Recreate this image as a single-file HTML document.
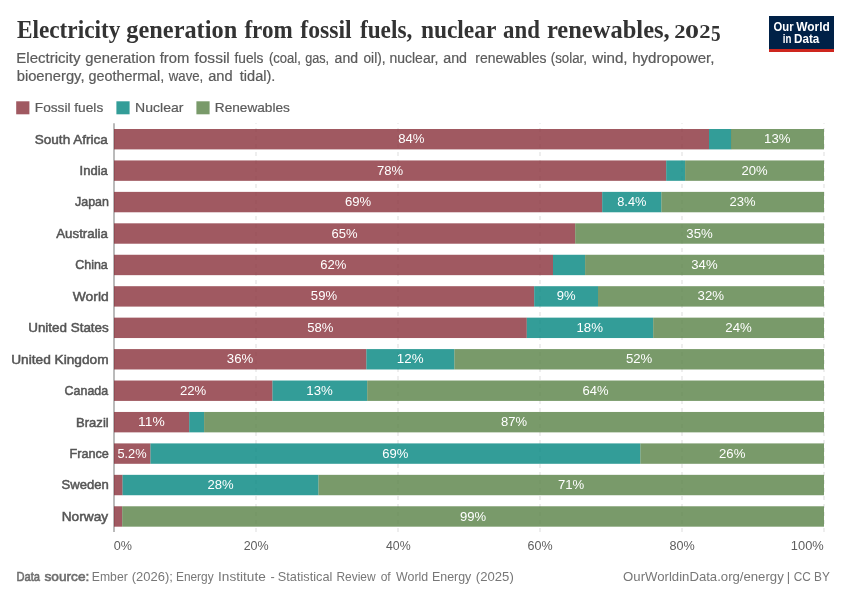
<!DOCTYPE html>
<html lang="en"><head><meta charset="utf-8"><title>Electricity generation from fossil fuels, nuclear and renewables, 2025</title>
<style>
html,body{margin:0;padding:0;background:#fff;}
svg{display:block;will-change:transform;}
text{font-family:'Liberation Sans', sans-serif;white-space:pre;}
.title{font-family:'Liberation Serif', serif;font-weight:bold;font-size:25px;fill:#333}
.titlenum{font-family:'Liberation Serif', serif;font-weight:bold;font-size:17.8px;fill:#333}
.titlenum5{font-family:'Liberation Serif', serif;font-weight:bold;font-size:23px;fill:#333}
.sub{font-family:'Liberation Sans', sans-serif;font-size:13.8px;fill:#5b5b5b;stroke:#5b5b5b;stroke-width:0.2px}
.leg{font-family:'Liberation Sans', sans-serif;font-size:13px;fill:#5b5b5b;stroke:#5b5b5b;stroke-width:0.2px}
.lbl{font-family:'Liberation Sans', sans-serif;font-size:13px;fill:#555;stroke:#555;stroke-width:0.5px}
.val{font-family:'Liberation Sans', sans-serif;font-size:13px;fill:#fff}
.tick{font-family:'Liberation Sans', sans-serif;font-size:13px;fill:#5e5e5e}
.foot{font-family:'Liberation Sans', sans-serif;font-size:13px;fill:#777}
.footb{font-family:'Liberation Sans', sans-serif;font-size:13px;fill:#6e6e6e;stroke:#6e6e6e;stroke-width:0.6px}
.logo{font-family:'Liberation Sans', sans-serif;font-size:12px;font-weight:bold;fill:#fff}
</style></head><body>
<svg width="850" height="600" viewBox="0 0 850 600">
<rect width="850" height="600" fill="#fff"/>
<rect x="769" y="16" width="65" height="36" fill="#002147"/><rect x="769" y="49" width="65" height="3" fill="#ce261e"/>
<rect x="16.2" y="101.3" width="13.2" height="13" fill="#883039" fill-opacity="0.8"/>
<rect x="116.4" y="101.3" width="13.2" height="13" fill="#00847e" fill-opacity="0.8"/>
<rect x="196.4" y="101.3" width="13.2" height="13" fill="#578145" fill-opacity="0.8"/>
<line x1="256.0" y1="532.0" x2="256.0" y2="123.2" stroke="#ddd" stroke-width="1" stroke-dasharray="4,4"/>
<line x1="398.0" y1="532.0" x2="398.0" y2="123.2" stroke="#ddd" stroke-width="1" stroke-dasharray="4,4"/>
<line x1="540.0" y1="532.0" x2="540.0" y2="123.2" stroke="#ddd" stroke-width="1" stroke-dasharray="4,4"/>
<line x1="682.0" y1="532.0" x2="682.0" y2="123.2" stroke="#ddd" stroke-width="1" stroke-dasharray="4,4"/>
<line x1="824.0" y1="532.0" x2="824.0" y2="123.2" stroke="#ddd" stroke-width="1" stroke-dasharray="4,4"/>
<line x1="114.0" y1="123.25" x2="114.0" y2="532.0" stroke="#777" stroke-width="1"/>
<rect x="114.0" y="129.00" width="595.0" height="20.4" fill="#883039" fill-opacity="0.8"/>
<rect x="709.0" y="129.00" width="22.1" height="20.4" fill="#00847e" fill-opacity="0.8"/>
<rect x="731.0" y="129.00" width="93.0" height="20.4" fill="#578145" fill-opacity="0.8"/>
<rect x="114.0" y="160.44" width="552.2" height="20.4" fill="#883039" fill-opacity="0.8"/>
<rect x="666.2" y="160.44" width="18.9" height="20.4" fill="#00847e" fill-opacity="0.8"/>
<rect x="685.1" y="160.44" width="138.9" height="20.4" fill="#578145" fill-opacity="0.8"/>
<rect x="114.0" y="191.88" width="488.2" height="20.4" fill="#883039" fill-opacity="0.8"/>
<rect x="602.2" y="191.88" width="59.2" height="20.4" fill="#00847e" fill-opacity="0.8"/>
<rect x="661.4" y="191.88" width="162.6" height="20.4" fill="#578145" fill-opacity="0.8"/>
<rect x="114.0" y="223.32" width="461.2" height="20.4" fill="#883039" fill-opacity="0.8"/>
<rect x="575.2" y="223.32" width="248.8" height="20.4" fill="#578145" fill-opacity="0.8"/>
<rect x="114.0" y="254.76" width="439.0" height="20.4" fill="#883039" fill-opacity="0.8"/>
<rect x="553.0" y="254.76" width="32.1" height="20.4" fill="#00847e" fill-opacity="0.8"/>
<rect x="585.1" y="254.76" width="238.9" height="20.4" fill="#578145" fill-opacity="0.8"/>
<rect x="114.0" y="286.20" width="420.2" height="20.4" fill="#883039" fill-opacity="0.8"/>
<rect x="534.2" y="286.20" width="63.8" height="20.4" fill="#00847e" fill-opacity="0.8"/>
<rect x="598.0" y="286.20" width="226.0" height="20.4" fill="#578145" fill-opacity="0.8"/>
<rect x="114.0" y="317.64" width="412.8" height="20.4" fill="#883039" fill-opacity="0.8"/>
<rect x="526.8" y="317.64" width="126.4" height="20.4" fill="#00847e" fill-opacity="0.8"/>
<rect x="653.2" y="317.64" width="170.8" height="20.4" fill="#578145" fill-opacity="0.8"/>
<rect x="114.0" y="349.08" width="252.4" height="20.4" fill="#883039" fill-opacity="0.8"/>
<rect x="366.4" y="349.08" width="88.0" height="20.4" fill="#00847e" fill-opacity="0.8"/>
<rect x="454.4" y="349.08" width="369.6" height="20.4" fill="#578145" fill-opacity="0.8"/>
<rect x="114.0" y="380.52" width="158.5" height="20.4" fill="#883039" fill-opacity="0.8"/>
<rect x="272.5" y="380.52" width="94.7" height="20.4" fill="#00847e" fill-opacity="0.8"/>
<rect x="367.2" y="380.52" width="456.8" height="20.4" fill="#578145" fill-opacity="0.8"/>
<rect x="114.0" y="411.96" width="75.2" height="20.4" fill="#883039" fill-opacity="0.8"/>
<rect x="189.2" y="411.96" width="14.9" height="20.4" fill="#00847e" fill-opacity="0.8"/>
<rect x="204.1" y="411.96" width="619.9" height="20.4" fill="#578145" fill-opacity="0.8"/>
<rect x="114.0" y="443.40" width="36.5" height="20.4" fill="#883039" fill-opacity="0.8"/>
<rect x="150.5" y="443.40" width="489.9" height="20.4" fill="#00847e" fill-opacity="0.8"/>
<rect x="640.4" y="443.40" width="183.6" height="20.4" fill="#578145" fill-opacity="0.8"/>
<rect x="114.0" y="474.84" width="8.6" height="20.4" fill="#883039" fill-opacity="0.8"/>
<rect x="122.6" y="474.84" width="195.9" height="20.4" fill="#00847e" fill-opacity="0.8"/>
<rect x="318.5" y="474.84" width="505.5" height="20.4" fill="#578145" fill-opacity="0.8"/>
<rect x="114.0" y="506.28" width="8.2" height="20.4" fill="#883039" fill-opacity="0.8"/>
<rect x="122.2" y="506.28" width="701.8" height="20.4" fill="#578145" fill-opacity="0.8"/>
<text class="title"><tspan x="16.90" y="38.0" textLength="103.48" lengthAdjust="spacingAndGlyphs">Electricity</tspan> <tspan x="126.36" y="38.0" textLength="110.82" lengthAdjust="spacingAndGlyphs">generation</tspan> <tspan x="244.45" y="38.0" textLength="48.28" lengthAdjust="spacingAndGlyphs">from</tspan> <tspan x="300.34" y="38.0" textLength="51.33" lengthAdjust="spacingAndGlyphs">fossil</tspan> <tspan x="359.90" y="38.0" textLength="52.38" lengthAdjust="spacingAndGlyphs">fuels,</tspan> <tspan x="420.89" y="38.0" textLength="75.09" lengthAdjust="spacingAndGlyphs">nuclear</tspan> <tspan x="503.04" y="38.0" textLength="36.89" lengthAdjust="spacingAndGlyphs">and</tspan> <tspan x="546.91" y="38.0" textLength="122.84" lengthAdjust="spacingAndGlyphs">renewables,</tspan> <tspan class="titlenum" x="674.24" y="38.0" textLength="11.28" lengthAdjust="spacingAndGlyphs">2</tspan><tspan class="titlenum" x="685.04" y="38.0" textLength="14.03" lengthAdjust="spacingAndGlyphs">0</tspan><tspan class="titlenum" x="699.33" y="38.0" textLength="11.28" lengthAdjust="spacingAndGlyphs">2</tspan><tspan class="titlenum5" x="710.99" y="41.0" textLength="9.58" lengthAdjust="spacingAndGlyphs">5</tspan></text>
<text class="sub"><tspan x="16.27" y="63.0" textLength="64.29" lengthAdjust="spacingAndGlyphs">Electricity</tspan> <tspan x="85.21" y="63.0" textLength="70.02" lengthAdjust="spacingAndGlyphs">generation</tspan> <tspan x="159.69" y="63.0" textLength="29.60" lengthAdjust="spacingAndGlyphs">from</tspan> <tspan x="194.45" y="63.0" textLength="35.35" lengthAdjust="spacingAndGlyphs">fossil</tspan> <tspan x="234.45" y="63.0" textLength="29.04" lengthAdjust="spacingAndGlyphs">fuels</tspan> <tspan x="268.99" y="63.0" textLength="31.92" lengthAdjust="spacingAndGlyphs">(coal,</tspan> <tspan x="305.13" y="63.0" textLength="23.90" lengthAdjust="spacingAndGlyphs">gas,</tspan> <tspan x="334.61" y="63.0" textLength="23.36" lengthAdjust="spacingAndGlyphs">and</tspan> <tspan x="363.49" y="63.0" textLength="22.04" lengthAdjust="spacingAndGlyphs">oil),</tspan> <tspan x="389.48" y="63.0" textLength="48.96" lengthAdjust="spacingAndGlyphs">nuclear,</tspan> <tspan x="443.31" y="63.0" textLength="23.74" lengthAdjust="spacingAndGlyphs">and</tspan> <tspan x="475.32" y="63.0" textLength="71.20" lengthAdjust="spacingAndGlyphs">renewables</tspan> <tspan x="550.76" y="63.0" textLength="36.14" lengthAdjust="spacingAndGlyphs">(solar,</tspan> <tspan x="592.21" y="63.0" textLength="35.34" lengthAdjust="spacingAndGlyphs">wind,</tspan> <tspan x="632.18" y="63.0" textLength="82.28" lengthAdjust="spacingAndGlyphs">hydropower,</tspan></text>
<text class="sub"><tspan x="16.68" y="81.0" textLength="67.81" lengthAdjust="spacingAndGlyphs">bioenergy,</tspan> <tspan x="88.49" y="81.0" textLength="75.79" lengthAdjust="spacingAndGlyphs">geothermal,</tspan> <tspan x="168.84" y="81.0" textLength="34.45" lengthAdjust="spacingAndGlyphs">wave,</tspan> <tspan x="208.20" y="81.0" textLength="24.42" lengthAdjust="spacingAndGlyphs">and</tspan> <tspan x="239.81" y="81.0" textLength="35.58" lengthAdjust="spacingAndGlyphs">tidal).</tspan></text>
<text class="leg" x="34.77" y="112.0" textLength="68.47" lengthAdjust="spacingAndGlyphs">Fossil fuels</text>
<text class="leg" x="135.10" y="112.0" textLength="48.34" lengthAdjust="spacingAndGlyphs">Nuclear</text>
<text class="leg" x="214.80" y="112.0" textLength="75.02" lengthAdjust="spacingAndGlyphs">Renewables</text>
<text class="logo"><tspan x="773.58" y="31.0" textLength="20.06" lengthAdjust="spacingAndGlyphs">Our</tspan> <tspan x="796.18" y="31.0" textLength="33.56" lengthAdjust="spacingAndGlyphs">World</tspan></text>
<text class="logo"><tspan x="782.80" y="43.0" textLength="8.61" lengthAdjust="spacingAndGlyphs">in</tspan> <tspan x="794.02" y="43.0" textLength="25.36" lengthAdjust="spacingAndGlyphs">Data</tspan></text>
<text class="tick" x="113.81" y="550.0" textLength="18.21" lengthAdjust="spacingAndGlyphs">0%</text>
<text class="tick" x="243.66" y="550.0" textLength="25.03" lengthAdjust="spacingAndGlyphs">20%</text>
<text class="tick" x="386.00" y="550.0" textLength="24.72" lengthAdjust="spacingAndGlyphs">40%</text>
<text class="tick" x="527.62" y="550.0" textLength="25.07" lengthAdjust="spacingAndGlyphs">60%</text>
<text class="tick" x="669.47" y="550.0" textLength="25.26" lengthAdjust="spacingAndGlyphs">80%</text>
<text class="tick" x="790.87" y="550.0" textLength="32.89" lengthAdjust="spacingAndGlyphs">100%</text>
<text class="foot"><tspan class="footb" x="16.43" y="581.0" textLength="23.56" lengthAdjust="spacingAndGlyphs">Data</tspan> <tspan class="footb" x="44.47" y="581.0" textLength="44.91" lengthAdjust="spacingAndGlyphs">source:</tspan> <tspan x="91.87" y="581.0" textLength="35.84" lengthAdjust="spacingAndGlyphs">Ember</tspan> <tspan x="131.76" y="581.0" textLength="41.14" lengthAdjust="spacingAndGlyphs">(2026);</tspan> <tspan x="175.96" y="581.0" textLength="37.71" lengthAdjust="spacingAndGlyphs">Energy</tspan> <tspan x="218.04" y="581.0" textLength="47.75" lengthAdjust="spacingAndGlyphs">Institute</tspan> <tspan x="270.38" y="581.0" textLength="4.25" lengthAdjust="spacingAndGlyphs">-</tspan> <tspan x="277.79" y="581.0" textLength="54.58" lengthAdjust="spacingAndGlyphs">Statistical</tspan> <tspan x="336.47" y="581.0" textLength="39.11" lengthAdjust="spacingAndGlyphs">Review</tspan> <tspan x="380.63" y="581.0" textLength="10.05" lengthAdjust="spacingAndGlyphs">of</tspan> <tspan x="396.10" y="581.0" textLength="32.10" lengthAdjust="spacingAndGlyphs">World</tspan> <tspan x="431.99" y="581.0" textLength="39.28" lengthAdjust="spacingAndGlyphs">Energy</tspan> <tspan x="475.86" y="581.0" textLength="37.90" lengthAdjust="spacingAndGlyphs">(2025)</tspan></text>
<text class="foot"><tspan x="623.10" y="581.0" textLength="160.63" lengthAdjust="spacingAndGlyphs">OurWorldinData.org/energy</tspan> <tspan x="786.75" y="581.0">|</tspan> <tspan x="793.67" y="581.0" textLength="36.19" lengthAdjust="spacingAndGlyphs">CC BY</tspan></text>
<text class="lbl" x="34.78" y="144.0" textLength="73.04" lengthAdjust="spacingAndGlyphs">South Africa</text>
<text class="val" x="398.23" y="143.0" textLength="26.33" lengthAdjust="spacingAndGlyphs">84%</text>
<text class="val" x="764.07" y="143.0" textLength="26.42" lengthAdjust="spacingAndGlyphs">13%</text>
<text class="lbl" x="79.61" y="175.0" textLength="28.27" lengthAdjust="spacingAndGlyphs">India</text>
<text class="val" x="376.94" y="175.0" textLength="26.18" lengthAdjust="spacingAndGlyphs">78%</text>
<text class="val" x="741.43" y="175.0" textLength="26.16" lengthAdjust="spacingAndGlyphs">20%</text>
<text class="lbl" x="74.99" y="206.0" textLength="33.92" lengthAdjust="spacingAndGlyphs">Japan</text>
<text class="val" x="344.91" y="206.0" textLength="26.18" lengthAdjust="spacingAndGlyphs">69%</text>
<text class="val" x="617.23" y="206.0" textLength="29.20" lengthAdjust="spacingAndGlyphs">8.4%</text>
<text class="val" x="729.56" y="206.0" textLength="26.05" lengthAdjust="spacingAndGlyphs">23%</text>
<text class="lbl" x="56.25" y="238.0" textLength="51.71" lengthAdjust="spacingAndGlyphs">Australia</text>
<text class="val" x="331.49" y="238.0" textLength="26.04" lengthAdjust="spacingAndGlyphs">65%</text>
<text class="val" x="686.39" y="238.0" textLength="26.43" lengthAdjust="spacingAndGlyphs">35%</text>
<text class="lbl" x="75.21" y="269.0" textLength="32.57" lengthAdjust="spacingAndGlyphs">China</text>
<text class="val" x="320.31" y="269.0" textLength="26.15" lengthAdjust="spacingAndGlyphs">62%</text>
<text class="val" x="691.32" y="269.0" textLength="26.28" lengthAdjust="spacingAndGlyphs">34%</text>
<text class="lbl" x="72.76" y="301.0" textLength="35.92" lengthAdjust="spacingAndGlyphs">World</text>
<text class="val" x="310.86" y="300.0" textLength="26.21" lengthAdjust="spacingAndGlyphs">59%</text>
<text class="val" x="556.70" y="300.0" textLength="18.88" lengthAdjust="spacingAndGlyphs">9%</text>
<text class="val" x="697.63" y="300.0" textLength="26.52" lengthAdjust="spacingAndGlyphs">32%</text>
<text class="lbl" x="28.19" y="332.0" textLength="80.56" lengthAdjust="spacingAndGlyphs">United States</text>
<text class="val" x="307.25" y="332.0" textLength="26.24" lengthAdjust="spacingAndGlyphs">58%</text>
<text class="val" x="576.43" y="332.0" textLength="26.57" lengthAdjust="spacingAndGlyphs">18%</text>
<text class="val" x="725.32" y="332.0" textLength="26.54" lengthAdjust="spacingAndGlyphs">24%</text>
<text class="lbl" x="11.22" y="364.0" textLength="97.40" lengthAdjust="spacingAndGlyphs">United Kingdom</text>
<text class="val" x="226.86" y="363.0" textLength="26.46" lengthAdjust="spacingAndGlyphs">36%</text>
<text class="val" x="396.81" y="363.0" textLength="26.71" lengthAdjust="spacingAndGlyphs">12%</text>
<text class="val" x="625.93" y="363.0" textLength="26.38" lengthAdjust="spacingAndGlyphs">52%</text>
<text class="lbl" x="64.59" y="395.0" textLength="43.54" lengthAdjust="spacingAndGlyphs">Canada</text>
<text class="val" x="180.01" y="395.0" textLength="26.31" lengthAdjust="spacingAndGlyphs">22%</text>
<text class="val" x="306.29" y="395.0" textLength="26.54" lengthAdjust="spacingAndGlyphs">13%</text>
<text class="val" x="582.49" y="395.0" textLength="26.04" lengthAdjust="spacingAndGlyphs">64%</text>
<text class="lbl" x="76.10" y="427.0" textLength="32.59" lengthAdjust="spacingAndGlyphs">Brazil</text>
<text class="val" x="138.06" y="426.0" textLength="26.66" lengthAdjust="spacingAndGlyphs">11%</text>
<text class="val" x="500.96" y="426.0" textLength="26.08" lengthAdjust="spacingAndGlyphs">87%</text>
<text class="lbl" x="69.44" y="458.0" textLength="39.40" lengthAdjust="spacingAndGlyphs">France</text>
<text class="val" x="117.43" y="458.0" textLength="29.26" lengthAdjust="spacingAndGlyphs">5.2%</text>
<text class="val" x="382.30" y="458.0" textLength="26.13" lengthAdjust="spacingAndGlyphs">69%</text>
<text class="val" x="719.01" y="458.0" textLength="26.33" lengthAdjust="spacingAndGlyphs">26%</text>
<text class="lbl" x="61.60" y="489.0" textLength="47.29" lengthAdjust="spacingAndGlyphs">Sweden</text>
<text class="val" x="207.43" y="489.0" textLength="26.16" lengthAdjust="spacingAndGlyphs">28%</text>
<text class="val" x="558.02" y="489.0" textLength="26.30" lengthAdjust="spacingAndGlyphs">71%</text>
<text class="lbl" x="61.73" y="521.0" textLength="46.41" lengthAdjust="spacingAndGlyphs">Norway</text>
<text class="val" x="459.94" y="521.0" textLength="26.18" lengthAdjust="spacingAndGlyphs">99%</text>
</svg></body></html>
